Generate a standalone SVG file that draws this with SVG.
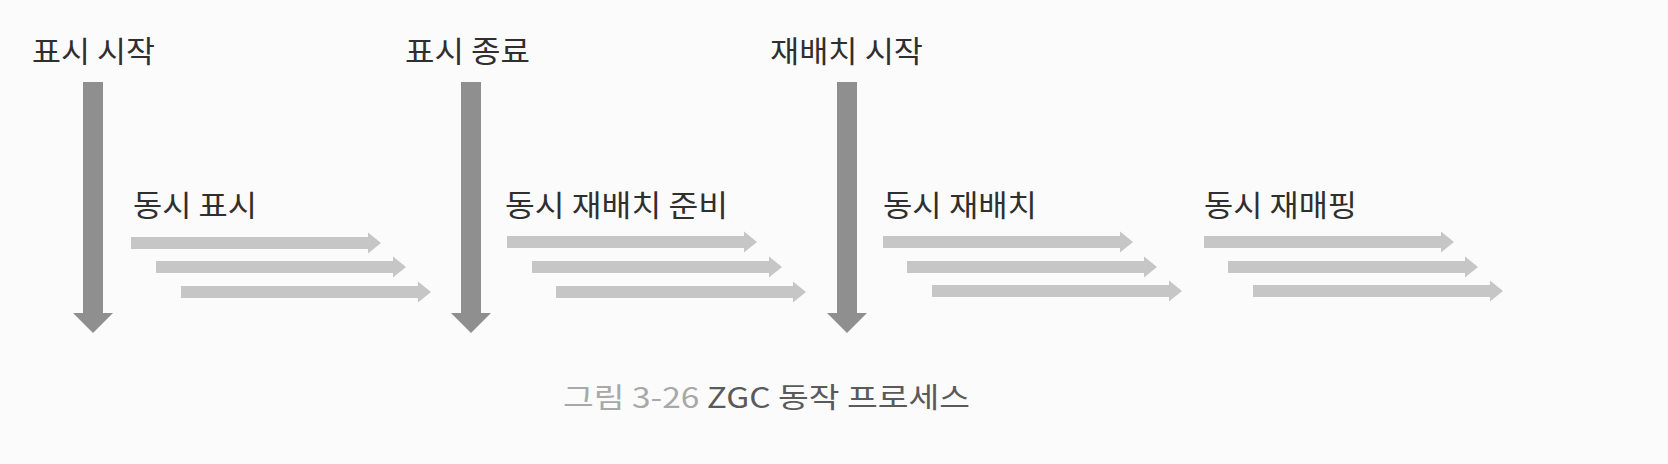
<svg xmlns="http://www.w3.org/2000/svg" xmlns:xlink="http://www.w3.org/1999/xlink" width="1668" height="464" viewBox="0 0 1668 464">
  <style>
    .lbl { font-family: "Noto Sans CJK KR", "Noto Sans", sans-serif; font-size: 30px; fill: #2f2f2f; }
    .cap { font-family: "Noto Sans CJK KR", "Noto Sans", sans-serif; font-size: 28px; }
    .capnum { fill: #a8a8a8; }
    .captxt { fill: #5a5a5a; }
    .varr { fill: #8f8f8f; }
    .harr { fill: #c6c6c6; }
  </style>
  <defs>
    <path id="h" d="M0,-6 H237 V-10.5 L250,0 L237,10.5 V6 H0 Z"/>
    <path id="v" d="M-10,0 H10 V231 H20 L0,251 L-20,231 H-10 Z"/>
  </defs>
  <rect width="1668" height="464" fill="#fbfbfb"/>

  <g id="connectors">
    <use xlink:href="#v" class="varr" x="93" y="82"/>
    <use xlink:href="#v" class="varr" x="471" y="82"/>
    <use xlink:href="#v" class="varr" x="847" y="82"/>

    <use xlink:href="#h" class="harr" x="131" y="243"/>
    <use xlink:href="#h" class="harr" x="156" y="267"/>
    <use xlink:href="#h" class="harr" x="181" y="292"/>

    <use xlink:href="#h" class="harr" x="507" y="242"/>
    <use xlink:href="#h" class="harr" x="532" y="267"/>
    <use xlink:href="#h" class="harr" x="556" y="292"/>

    <use xlink:href="#h" class="harr" x="883" y="242"/>
    <use xlink:href="#h" class="harr" x="907" y="267"/>
    <use xlink:href="#h" class="harr" x="932" y="291"/>

    <use xlink:href="#h" class="harr" x="1204" y="242"/>
    <use xlink:href="#h" class="harr" x="1228" y="267"/>
    <use xlink:href="#h" class="harr" x="1253" y="291"/>
  </g>

  <g id="mark-start"><text class="lbl" x="32" y="62" textLength="123" lengthAdjust="spacingAndGlyphs">표시 시작</text></g>
  <g id="mark-end"><text class="lbl" x="405" y="62" textLength="125" lengthAdjust="spacingAndGlyphs">표시 종료</text></g>
  <g id="relocate-start"><text class="lbl" x="770" y="62" textLength="153" lengthAdjust="spacingAndGlyphs">재배치 시작</text></g>

  <g id="concurrent-mark"><text class="lbl" x="133" y="216" textLength="124" lengthAdjust="spacingAndGlyphs">동시 표시</text></g>
  <g id="concurrent-prepare"><text class="lbl" x="505" y="216" textLength="223" lengthAdjust="spacingAndGlyphs">동시 재배치 준비</text></g>
  <g id="concurrent-relocate"><text class="lbl" x="883" y="216" textLength="154" lengthAdjust="spacingAndGlyphs">동시 재배치</text></g>
  <g id="concurrent-remap"><text class="lbl" x="1204" y="216" textLength="153" lengthAdjust="spacingAndGlyphs">동시 재매핑</text></g>

  <g id="caption"><text class="cap" x="563" y="408" textLength="407" lengthAdjust="spacingAndGlyphs"><tspan class="capnum">그림 3-26</tspan><tspan class="captxt"> ZGC 동작 프로세스</tspan></text></g>
</svg>
